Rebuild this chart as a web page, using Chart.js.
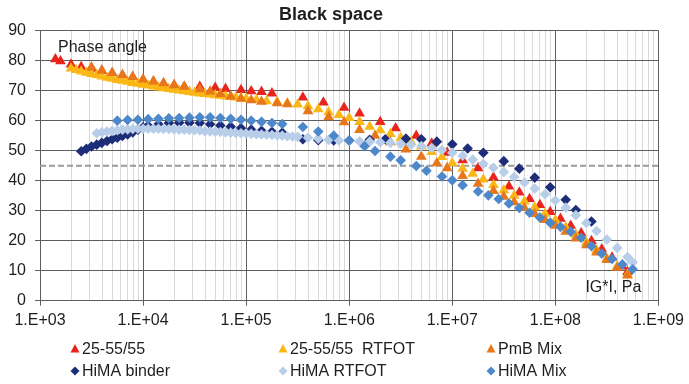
<!DOCTYPE html>
<html><head><meta charset="utf-8">
<script src="https://cdn.jsdelivr.net/npm/chart.js@4.4.1/dist/chart.umd.min.js"></script>
<style>html,body{margin:0;padding:0;background:#fff;}canvas{display:block;}</style>
</head><body>
<canvas id="c" width="689" height="384"></canvas>
<script>
const TITLE = 'Black space';
const Y_NOTE = 'Phase angle';
const X_NOTE = 'IG*I, Pa';
const SERIES_NAMES = ['25-55/55', '25-55/55  RTFOT', 'PmB Mix', 'HiMA binder', 'HiMA RTFOT', 'HiMA Mix'];
const X_MIN = 1e3, X_MAX = 1e9;
const Y_MIN = 0, Y_MAX = 90, Y_STEP = 10;
const REF_PHASE = 45;

// 25-55/55
const gA = [1.41e3,1.58e3,2.00e3,2.51e3,3.16e3,3.98e3,5.01e3,6.31e3,7.94e3,1.00e4,1.26e4,1.58e4,2.00e4,2.51e4,3.55e4,5.01e4,6.31e4,8.91e4,1.12e5,1.41e5,1.78e5,3.55e5,5.62e5,8.91e5,1.26e6,2.00e6,2.82e6,4.47e6,6.31e6,8.91e6,1.26e7,1.78e7,2.51e7,3.55e7,4.47e7,5.62e7,7.08e7,8.91e7,1.12e8,1.41e8,1.78e8,2.24e8,2.82e8,3.55e8,4.47e8,5.01e8];
const pA = [80.5,79.8,78.7,77.9,77.3,76.6,75.8,75.1,74.5,73.6,73.0,72.4,71.8,71.3,71.3,71.0,70.6,70.2,69.8,69.6,69.1,67.7,66.1,64.3,62.4,59.6,57.5,55.0,52.4,49.3,46.8,44.2,41.1,38.1,36.1,33.9,31.9,29.6,27.3,25.0,22.5,19.9,17.2,14.4,11.4,9.6];

// 25-55/55 RTFOT
const gB = [2.00e3,2.24e3,2.51e3,2.82e3,3.16e3,3.55e3,3.98e3,4.47e3,5.01e3,5.62e3,6.31e3,7.08e3,7.94e3,8.91e3,1.00e4,1.12e4,1.26e4,1.41e4,1.58e4,1.78e4,2.00e4,2.24e4,2.51e4,2.82e4,3.16e4,3.55e4,3.98e4,4.47e4,5.01e4,5.62e4,6.31e4,7.08e4,7.94e4,8.91e4,1.00e5,1.26e5,1.58e5,2.00e5,2.51e5,3.16e5,3.98e5,5.01e5,6.31e5,7.94e5,1.00e6,1.26e6,1.58e6,2.00e6,2.51e6,3.16e6,3.98e6,5.01e6,6.31e6,7.94e6,1.00e7,1.26e7,1.58e7,2.00e7,2.51e7,3.16e7,3.98e7,5.01e7,6.31e7,7.94e7,1.00e8,1.26e8,1.58e8,2.00e8,2.51e8,3.16e8,3.98e8,5.01e8];
const pB = [77.4,76.9,76.4,76.0,75.6,75.2,74.7,74.3,74.0,73.6,73.3,73.0,72.6,72.3,72.0,71.7,71.4,71.1,70.8,70.6,70.3,70.1,69.8,69.6,69.3,69.1,68.9,68.7,68.5,68.3,68.1,67.9,67.7,67.5,67.3,66.9,66.5,66.2,65.8,65.4,64.8,63.8,62.8,61.9,60.9,59.6,58.0,56.8,55.6,54.2,52.9,51.4,49.6,47.9,45.8,44.0,42.3,40.4,38.6,36.8,35.0,33.1,31.1,29.0,26.8,24.5,22.0,19.4,16.8,14.1,11.4,8.8];

// PmB Mix
const gC = [3.16e3,3.98e3,5.01e3,6.31e3,7.94e3,1.00e4,1.26e4,1.58e4,2.00e4,2.51e4,3.55e4,4.47e4,5.62e4,7.08e4,8.91e4,1.12e5,1.41e5,2.00e5,2.51e5,3.98e5,6.31e5,8.91e5,1.26e6,1.78e6,2.51e6,3.55e6,5.01e6,7.08e6,8.91e6,1.26e7,1.78e7,2.51e7,3.16e7,3.98e7,5.01e7,6.31e7,7.94e7,1.00e8,1.26e8,1.58e8,2.00e8,2.51e8,3.16e8,3.98e8,5.01e8];
const pC = [77.8,76.7,75.9,75.2,74.6,73.7,73.1,72.5,71.8,71.3,70.5,69.7,68.9,68.1,67.3,66.8,66.3,65.8,65.5,63.2,61.2,59.5,56.9,55.0,52.8,50.4,48.0,45.8,44.2,41.6,39.0,36.6,34.7,32.8,30.9,28.9,26.9,25.0,23.0,20.8,18.5,16.1,13.6,11.0,8.4];

// HiMA binder
const gD = [2.51e3,2.82e3,3.16e3,3.55e3,3.98e3,4.47e3,5.01e3,5.62e3,6.31e3,7.08e3,7.94e3,8.91e3,1.00e4,1.12e4,1.41e4,1.78e4,2.24e4,2.82e4,3.55e4,4.47e4,5.62e4,7.08e4,8.91e4,1.12e5,1.41e5,1.78e5,2.24e5,3.55e5,5.01e5,7.08e5,1.00e6,1.58e6,2.24e6,3.55e6,5.01e6,7.08e6,1.00e7,1.41e7,2.00e7,3.16e7,4.47e7,6.31e7,8.91e7,1.26e8,1.58e8,2.24e8];
const pD = [49.8,50.6,51.4,52.0,52.6,53.2,53.8,54.3,54.9,55.4,56.1,57.0,57.8,58.3,58.8,59.2,59.3,59.3,59.2,58.8,58.4,58.0,57.5,57.0,56.6,56.3,56.0,53.8,53.5,53.4,53.4,53.6,53.8,54.0,53.8,53.0,52.1,50.7,49.3,46.5,44.0,41.0,37.8,33.6,30.2,26.4];

// HiMA RTFOT
const gE = [3.55e3,3.98e3,4.47e3,5.01e3,5.62e3,6.31e3,7.08e3,7.94e3,8.91e3,1.00e4,1.12e4,1.26e4,1.41e4,1.58e4,1.78e4,2.00e4,2.24e4,2.51e4,2.82e4,3.16e4,3.55e4,3.98e4,4.47e4,5.01e4,5.62e4,6.31e4,7.08e4,7.94e4,8.91e4,1.00e5,1.12e5,1.26e5,1.41e5,1.58e5,1.78e5,2.00e5,2.24e5,2.51e5,2.82e5,3.16e5,3.98e5,5.01e5,6.31e5,7.94e5,1.00e6,1.26e6,1.58e6,2.00e6,2.51e6,3.16e6,3.98e6,5.01e6,6.31e6,7.94e6,1.00e7,1.26e7,1.58e7,2.00e7,2.51e7,3.16e7,3.98e7,5.01e7,6.31e7,7.94e7,1.00e8,1.26e8,1.58e8,2.00e8,2.51e8,3.16e8,3.98e8,5.01e8,5.62e8];
const pE = [55.8,56.1,56.4,56.6,56.8,57.0,57.1,57.2,57.3,57.3,57.3,57.3,57.3,57.2,57.2,57.1,57.0,57.0,56.9,56.8,56.7,56.5,56.4,56.3,56.2,56.1,56.0,55.9,55.8,55.7,55.6,55.5,55.4,55.3,55.2,55.1,55.0,54.8,54.7,54.6,54.3,54.0,53.6,53.4,53.2,53.1,53.0,52.8,52.6,52.3,52.0,51.5,50.9,50.2,49.3,48.3,47.0,45.6,44.3,42.9,41.2,39.4,37.4,35.5,33.4,31.0,28.5,25.9,23.2,20.4,17.6,14.6,12.8];

// HiMA Mix
const gF = [5.62e3,7.08e3,8.91e3,1.12e4,1.41e4,1.78e4,2.24e4,2.82e4,3.55e4,4.47e4,5.62e4,7.08e4,8.91e4,1.12e5,1.41e5,1.78e5,2.24e5,3.55e5,5.01e5,7.08e5,1.00e6,1.41e6,1.78e6,2.51e6,3.16e6,4.47e6,5.62e6,7.94e6,1.00e7,1.26e7,1.78e7,2.24e7,2.82e7,3.55e7,4.47e7,5.62e7,7.08e7,8.91e7,1.12e8,1.41e8,1.78e8,2.24e8,2.82e8,3.55e8,4.47e8,5.62e8];
const pF = [60.0,60.2,60.3,60.5,60.6,60.8,60.9,61.0,61.1,61.1,60.9,60.6,60.3,60.0,59.6,59.2,58.9,57.9,56.4,55.0,53.4,51.5,49.9,48.0,46.8,44.9,43.3,41.4,40.1,38.5,36.4,35.1,33.9,32.4,30.9,29.3,27.7,26.0,24.6,23.0,21.0,18.2,15.7,13.9,12.1,10.5];

const X_VALUES = [gA, gB, gC, gD, gE, gF];
const Y_VALUES = [pA, pB, pC, pD, pE, pF];
const COLORS = ['#e8251d', '#fbb715', '#e8761a', '#1e2d78', '#b8cde8', '#4d88cb'];
const SHAPES = ['triangle', 'triangle', 'triangle', 'rectRot', 'rectRot', 'rectRot'];

const FONT = "'Liberation Sans', Arial, Helvetica, sans-serif";
const TEXT = '#1e1e1e';
const MAJOR_GRID = '#5e5e5e';
const MINOR_GRID = '#d9d9d9';

function isDecade(v) { const e = Math.log10(v); return Math.abs(e - Math.round(e)) < 1e-9; }
const X_TICKS = [];
for (let e = Math.log10(X_MIN); e < Math.log10(X_MAX); e++) for (let m = 1; m <= 9; m++) X_TICKS.push(m * Math.pow(10, e));
X_TICKS.push(X_MAX);

const datasets = SERIES_NAMES.map((name, i) => ({
  label: name,
  data: X_VALUES[i].map((g, k) => ({ x: g, y: Y_VALUES[i][k] })),
  backgroundColor: COLORS[i],
  borderColor: COLORS[i],
  pointStyle: SHAPES[i],
  pointRadius: SHAPES[i] === 'triangle' ? 6.2 : 5.3,
  pointBorderWidth: 0,
  pointHoverRadius: 5,
  showLine: false,
  order: 10 - i
}));
datasets.push({
  label: 'ref',
  type: 'line',
  data: [{ x: X_MIN, y: REF_PHASE }, { x: X_MAX, y: REF_PHASE }],
  borderColor: '#9a9a9a',
  borderWidth: 2,
  borderDash: [6, 3],
  pointRadius: 0,
  order: 20
});

const notesAndLegend = {
  id: 'notesAndLegend',
  afterDraw(chart) {
    const ctx = chart.ctx, a = chart.chartArea;
    ctx.save();
    ctx.fillStyle = TEXT;
    ctx.font = '16px ' + FONT;
    ctx.textBaseline = 'middle';
    ctx.textAlign = 'left';
    ctx.fillText(Y_NOTE, a.left + 18, a.top + 17);
    ctx.textAlign = 'right';
    ctx.fillText(X_NOTE, a.right - 17, a.bottom - 13);
    const colX = [75, 283, 491], rowY = [349, 371];
    ctx.textAlign = 'left';
    SERIES_NAMES.forEach((name, i) => {
      const x = colX[i % 3], y = rowY[Math.floor(i / 3)];
      ctx.fillStyle = COLORS[i];
      ctx.beginPath();
      if (SHAPES[i] === 'triangle') {
        ctx.moveTo(x, y - 5); ctx.lineTo(x + 4.5, y + 3.5); ctx.lineTo(x - 4.5, y + 3.5);
      } else {
        ctx.moveTo(x, y - 4.5); ctx.lineTo(x + 4.5, y); ctx.lineTo(x, y + 4.5); ctx.lineTo(x - 4.5, y);
      }
      ctx.closePath(); ctx.fill();
      ctx.fillStyle = TEXT;
      ctx.fillText(name, x + 7, y + 1);
    });
    ctx.restore();
  }
};

new Chart(document.getElementById('c'), {
  type: 'scatter',
  data: { datasets },
  plugins: [notesAndLegend],
  options: {
    responsive: false,
    animation: false,
    devicePixelRatio: 1,
    layout: { padding: { left: 0, right: 27, top: 0, bottom: 0 } },
    plugins: {
      legend: { display: false },
      tooltip: { enabled: false },
      title: { display: true, text: TITLE, color: TEXT, font: { family: FONT, size: 18, weight: 'bold' }, padding: { top: 4, bottom: 5 } }
    },
    scales: {
      x: {
        type: 'logarithmic', min: X_MIN, max: X_MAX,
        afterBuildTicks: (s) => { s.ticks = X_TICKS.map(v => ({ value: v })); },
        afterFit: (s) => { s.height = 83.3; },
        ticks: {
          autoSkip: false, maxRotation: 0, padding: 5, color: TEXT,
          font: { family: FONT, size: 16 },
          callback: (v) => isDecade(v) ? '1.E+' + String(Math.round(Math.log10(v))).padStart(2, '0') : ''
        },
        grid: {
          color: (c) => (c.tick && isDecade(c.tick.value)) ? MAJOR_GRID : MINOR_GRID,
          tickColor: (c) => (c.tick && isDecade(c.tick.value)) ? MAJOR_GRID : 'rgba(0,0,0,0)',
          tickLength: 5, lineWidth: 1
        },
        border: { color: MAJOR_GRID, width: 1 }
      },
      y: {
        min: Y_MIN, max: Y_MAX,
        afterFit: (s) => { s.width = 40; },
        ticks: { stepSize: Y_STEP, padding: 9, color: TEXT, font: { family: FONT, size: 16 } },
        grid: { color: MAJOR_GRID, tickLength: 5, lineWidth: 1 },
        border: { color: MAJOR_GRID, width: 1 }
      }
    }
  }
});
</script>
</body></html>
